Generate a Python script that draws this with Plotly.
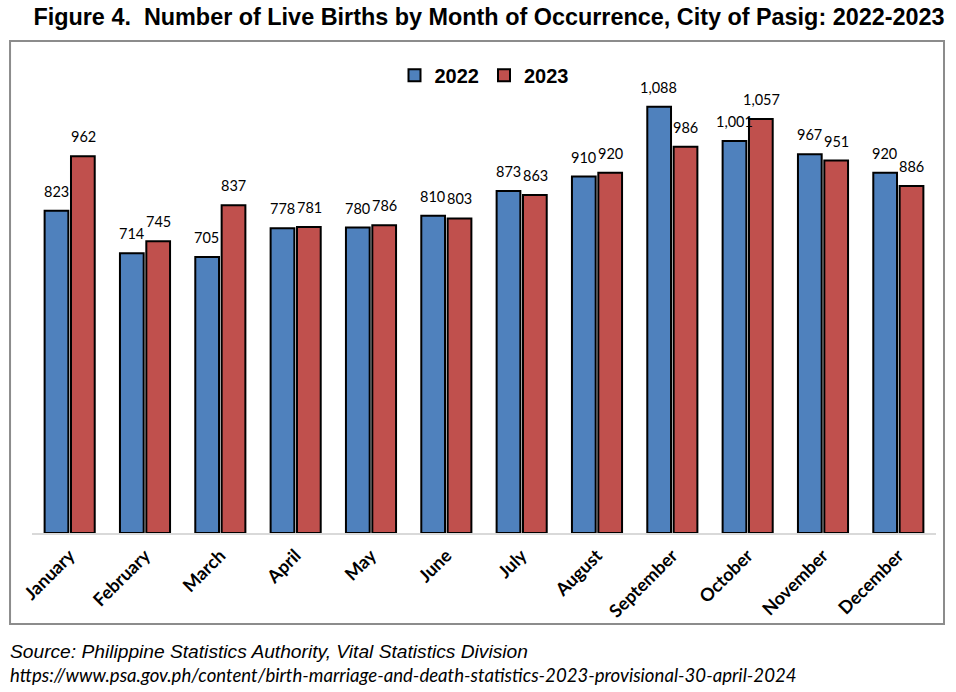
import plotly.graph_objects as go

months = ["January", "February", "March", "April", "May", "June", "July",
          "August", "September", "October", "November", "December"]
births_2022 = [823, 714, 705, 778, 780, 810, 873, 910, 1088, 1001, 967, 920]
births_2023 = [962, 745, 837, 781, 786, 803, 863, 920, 986, 1057, 951, 886]

BLUE = "#4F81BD"
RED = "#C0504D"

fig = go.Figure()
for name, vals, col in [("2022", births_2022, BLUE), ("2023", births_2023, RED)]:
    fig.add_trace(go.Bar(
        name=name, x=months, y=vals,
        marker=dict(color=col, line=dict(color="black", width=2)),
    ))

# data labels
for vals, shift in [(births_2022, -13.6), (births_2023, 13.6)]:
    for m, v in zip(months, vals):
        fig.add_annotation(x=m, y=v, text=f"{v:,}", showarrow=False,
                           xshift=shift, yshift=9, yanchor="bottom",
                           font=dict(family="Lato", size=14.5, color="black"))

fig.update_layout(
    width=956, height=692,
    margin=dict(l=32, r=20, t=63, b=159, autoexpand=False),
    paper_bgcolor="white", plot_bgcolor="white",
    barmode="group", bargap=0.30, bargroupgap=0.10,
    title=dict(text="<b>Figure 4.  Number of Live Births by Month of Occurrence, City of Pasig: 2022-2023</b>",
               x=0.5115, xanchor="center", y=0.975, yanchor="middle",
               font=dict(family="Liberation Sans", size=23.4, color="black")),
    legend=dict(orientation="h", x=0.5, xanchor="center", y=0.974, yanchor="middle",
                font=dict(family="Liberation Sans", size=20, color="black", weight="bold"),
                itemwidth=30, bgcolor="rgba(0,0,0,0)"),
    xaxis=dict(showgrid=False, showline=True, linecolor="#D9D9D9", linewidth=2,
               ticks="", tickangle=-45, ticklabelstandoff=3, automargin=False,
               tickfont=dict(family="Lato", size=18, color="black", weight="bold")),
    yaxis=dict(range=[0, 1200], visible=False, showgrid=False, automargin=False),
    showlegend=True,
)

fig.add_shape(type="rect", xref="paper", yref="paper",
              x0=-0.0243, x1=1.00885, y0=-0.1936, y1=1.0468,
              line=dict(color="#8C8C8C", width=2), fillcolor="rgba(0,0,0,0)", layer="below")

fig.add_annotation(text="<i>Source: Philippine Statistics Authority, Vital Statistics Division</i>",
                   xref="paper", yref="paper", x=-0.0265, y=-0.252, xanchor="left", yanchor="middle",
                   showarrow=False, font=dict(family="Liberation Sans", size=19.2, color="black"))
fig.add_annotation(text="<i>https://www.psa.gov.ph/content/birth-marriage-and-death-statistics-2023-provisional-30-april-2024</i>",
                   xref="paper", yref="paper", x=-0.0265, y=-0.302, xanchor="left", yanchor="middle",
                   showarrow=False, font=dict(family="Lato", size=18.6, color="black"))

fig.write_html("out.html", config={"displayModeBar": False},
               post_script="document.body.style.margin='0';")
